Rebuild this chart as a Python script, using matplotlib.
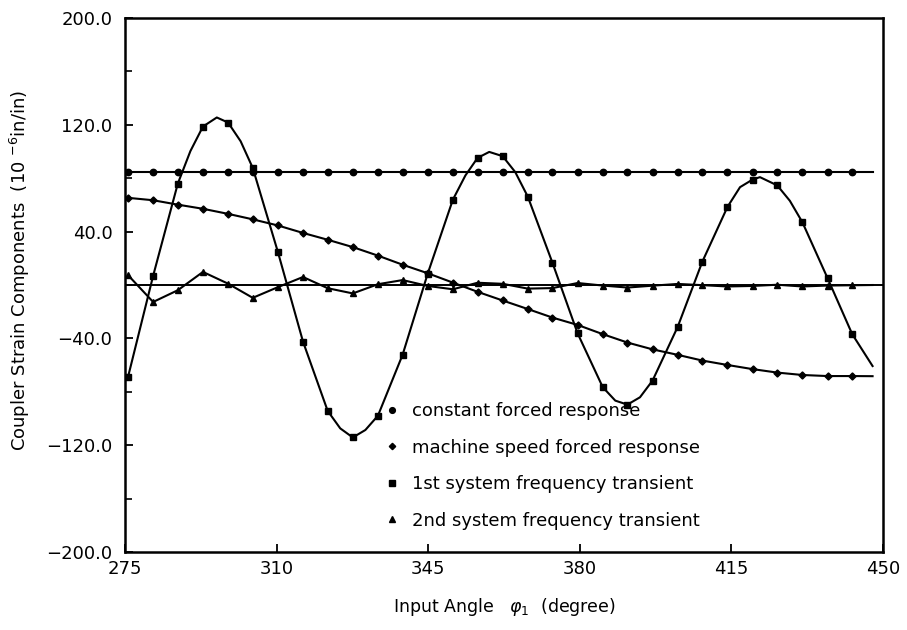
import matplotlib
matplotlib.use("Agg")
import matplotlib.pyplot as plt

# marker positions along the input angle (degree)
x_mark = [275.7, 281.5, 287.2, 293.0, 298.8, 304.5, 310.3, 316.1, 321.8, 327.6,
          333.4, 339.1, 344.9, 350.7, 356.4, 362.2, 368.0, 373.7, 379.5, 385.3,
          391.0, 396.8, 402.6, 408.3, 414.1, 419.9, 425.6, 431.4, 437.2, 442.9]
x_end = 447.6

# constant forced response
const_y = [85.0] * 30
const_end = 85.0

# machine speed forced response
speed_y = [65.3, 63.5, 60.2, 57.1, 53.3, 49.2, 44.6, 39.0, 33.9, 28.4,
           22.0, 15.2, 8.8, 1.8, -5.1, -11.6, -18.0, -24.4, -29.9, -36.8,
           -43.1, -48.2, -52.3, -56.6, -59.9, -63.0, -65.6, -67.4, -68.2, -68.2]
speed_end = -68.3

# 1st system frequency transient
first_y = [-68.9, 6.9, 76.0, 118.7, 121.7, 87.7, 24.8, -42.4, -94.3, -114.2,
           -97.9, -52.2, 8.6, 63.9, 95.2, 96.5, 66.2, 16.6, -36.2, -76.5,
           -89.6, -71.6, -31.4, 17.5, 58.5, 79.0, 74.6, 47.0, 5.2, -36.8]
# extra readings of the curve between markers (peaks, troughs)
first_extra_x = [290.1, 296.2, 301.7, 324.7, 330.5, 353.6, 359.1, 365.1,
                 388.2, 393.9, 417.0, 421.6, 428.5, 447.6]
first_extra_y = [100.3, 125.5, 107.7, -107.4, -108.6, 82.1, 99.7, 84.6,
                 -86.6, -84.1, 73.3, 80.8, 63.1, -60.7]

# 2nd system frequency transient
second_y = [7.4, -12.7, -3.9, 9.8, 1.0, -9.6, -1.6, 6.0, -2.4, -6.3,
            0.6, 3.7, -0.7, -3.2, 1.7, 0.9, -2.7, -2.3, 1.5, -0.4,
            -1.9, -0.5, 0.8, -0.1, -1.1, -0.7, 0.2, -1.1, -0.4, -0.2]
second_end = 0.0

labels = ["constant forced response", "machine speed forced response",
          "1st system frequency transient", "2nd system frequency transient"]

x_ticks = [275, 310, 345, 380, 415, 450]
y_ticks = [-200, -120, -40, 40, 120, 200]
y_tick_labels = ["\u2212200.0", "\u2212120.0", "\u221240.0", "40.0", "120.0", "200.0"]
y_minor = [-160, -80, 0, 80, 160]


def draw_chart():
    plt.rcParams['font.family'] = ['DejaVu Sans']
    fig = plt.figure(figsize=(9.07, 6.30), dpi=100)
    ax = fig.add_axes([0.1378, 0.1238, 0.8357, 0.8476])

    # zero line
    ax.axhline(0, color='k', lw=1.4, zorder=1)

    lw = 1.5
    ms = 4.6
    # lines through the points
    ax.plot(x_mark + [x_end], const_y + [const_end], color='k', lw=lw)
    ax.plot(x_mark + [x_end], speed_y + [speed_end], color='k', lw=lw)
    pts = sorted(zip(x_mark + first_extra_x, first_y + first_extra_y))
    ax.plot([p[0] for p in pts], [p[1] for p in pts], color='k', lw=lw)
    ax.plot(x_mark + [x_end], second_y + [second_end], color='k', lw=lw)

    # markers
    ax.plot(x_mark, const_y, 'o', color='k', ms=ms, label=labels[0])
    ax.plot(x_mark, speed_y, 'D', color='k', ms=ms - 1, label=labels[1])
    ax.plot(x_mark, first_y, 's', color='k', ms=ms - 0.4, label=labels[2])
    ax.plot(x_mark, second_y, '^', color='k', ms=ms - 0.4, label=labels[3])

    ax.set_xlim(275, 450)
    ax.set_ylim(-200, 200)
    ax.set_xticks(x_ticks)
    ax.set_yticks(y_ticks)
    ax.set_yticklabels(y_tick_labels)
    ax.set_yticks(y_minor, minor=True)

    ax.tick_params(axis='both', which='major', direction='in', length=6,
                   width=1.3, labelsize=13, colors='k')
    ax.tick_params(axis='y', which='minor', direction='in', length=5, width=1.2)
    ax.tick_params(axis='y', pad=9)
    ax.tick_params(axis='x', pad=6)
    for s in ax.spines.values():
        s.set_linewidth(1.8)

    ax.set_xlabel(r"Input Angle   $\varphi_1$  (degree)", fontsize=12.5)
    ax.set_ylabel(r"Coupler Strain Components  (10 $^{-6}$in/in)", fontsize=13)
    ax.xaxis.set_label_coords(0.5, -0.083)
    ax.yaxis.set_label_coords(-0.123, 0.528)

    ax.legend(loc='upper left', bbox_to_anchor=(0.343, 0.281), frameon=False,
              fontsize=13, handlelength=0.8, handletextpad=0.7,
              labelspacing=1.03, borderpad=0, borderaxespad=0, markerscale=0.9)

    fig.savefig("out.png", dpi=100)


if __name__ == "__main__":
    draw_chart()
